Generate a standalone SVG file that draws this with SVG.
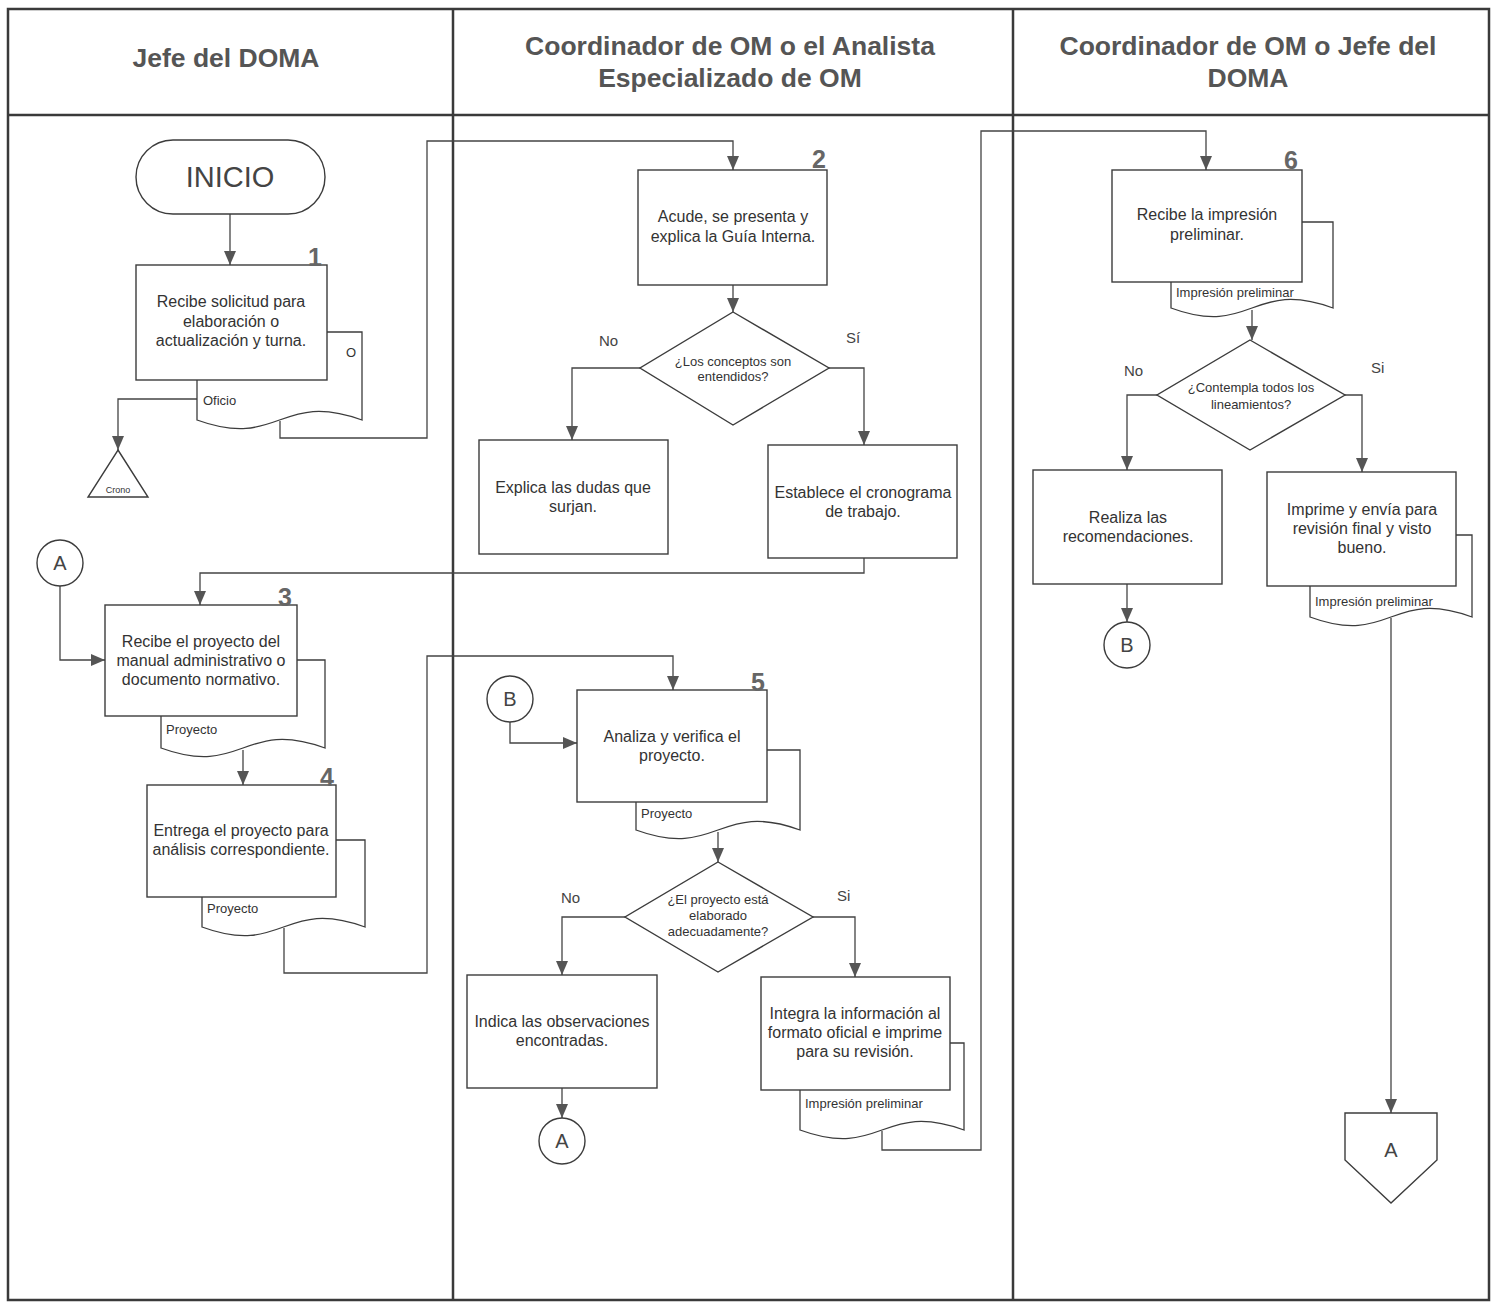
<svg xmlns="http://www.w3.org/2000/svg" width="1495" height="1303" viewBox="0 0 1495 1303">
<style>
.frame{fill:none;stroke:#3a3a3a;stroke-width:2.5}
.box{fill:#fff;stroke:#3c3c3c;stroke-width:1.4}
.doc{fill:#fff;stroke:#3c3c3c;stroke-width:1.3}
.con{fill:none;stroke:#444;stroke-width:1.3;marker-end:url(#arr)}
.hdr{font-family:"Liberation Sans",Arial,sans-serif;font-weight:bold;font-size:26.5px;fill:#555;text-anchor:middle}
.t{font-family:"Liberation Sans",Arial,sans-serif;font-size:16px;fill:#333;text-anchor:middle}
.q{font-family:"Liberation Sans",Arial,sans-serif;font-size:13px;fill:#333;text-anchor:middle}
.lbl{font-family:"Liberation Sans",Arial,sans-serif;font-size:13px;fill:#333}
.yn{font-family:"Liberation Sans",Arial,sans-serif;font-size:15px;fill:#444}
.num{font-family:"Liberation Sans",Arial,sans-serif;font-weight:bold;font-size:25px;fill:#666;text-anchor:end}
.big{font-family:"Liberation Sans",Arial,sans-serif;font-size:20px;fill:#444;text-anchor:middle}
</style>
<defs>
<marker id="arr" viewBox="0 0 14 12" refX="14" refY="6" markerWidth="14" markerHeight="12" markerUnits="userSpaceOnUse" orient="auto">
<path d="M0,0 L14,6 L0,12 z" fill="#555"/>
</marker>
</defs>
<rect x="0" y="0" width="1495" height="1303" fill="#fff"/>
<g id="frame">
<rect class="frame" x="8" y="9" width="1481" height="1291"/>
<line class="frame" x1="8" y1="115" x2="1489" y2="115" stroke-width="3.5"/>
<line class="frame" x1="453" y1="9" x2="453" y2="1300"/>
<line class="frame" x1="1013" y1="9" x2="1013" y2="1300"/>
<text class="hdr" x="226" y="67">Jefe del DOMA</text>
<text class="hdr" x="730" y="55">Coordinador de OM o el Analista</text>
<text class="hdr" x="730" y="87">Especializado de OM</text>
<text class="hdr" x="1248" y="55">Coordinador de OM o Jefe del</text>
<text class="hdr" x="1248" y="87">DOMA</text>
</g>
<g id="connectors">
<path class="con" d="M230,214 V265"/>
<path class="con" d="M197,399 H118 V450"/>
<path class="con" d="M280,421 V438 H427 V141 H733 V170"/>
<path class="con" d="M733,285 V312"/>
<path class="con" d="M640,368 H572 V440"/>
<path class="con" d="M829,368 H864 V445"/>
<path class="con" d="M864,558 V573 H200 V605"/>
<path class="con" d="M60,586 V660 H105"/>
<path class="con" d="M243,750 V785"/>
<path class="con" d="M284,928 V973 H427 V656 H673 V690"/>
<path class="con" d="M510,722 V743 H577"/>
<path class="con" d="M718,832 V862"/>
<path class="con" d="M625,917 H562 V975"/>
<path class="con" d="M562,1088 V1118"/>
<path class="con" d="M813,917 H855 V977"/>
<path class="con" d="M882,1131 V1150 H981 V131 H1206 V170"/>
<path class="con" d="M1252,310 V340"/>
<path class="con" d="M1157,395 H1127 V470"/>
<path class="con" d="M1127,584 V622"/>
<path class="con" d="M1345,395 H1362 V472"/>
<path class="con" d="M1391,618 V1113"/>
</g>
<g id="inicio">
<rect class="box" x="136" y="140" width="189" height="74" rx="37" ry="37"/>
<text class="big" x="230" y="187" style="font-size:29px">INICIO</text>
</g>
<g id="step1">
<path class="doc" d="M197,332 H362 V420 C279.5,390 279.5,450 197,420 Z"/>
<text class="lbl" x="346" y="357">O</text>
<text class="lbl" x="203" y="405">Oficio</text>
<rect class="box" x="136" y="265" width="191" height="115"/>
<text class="num" x="322" y="266">1</text>
<text class="t" x="231" y="307">Recibe solicitud para</text>
<text class="t" x="231" y="327">elaboración o</text>
<text class="t" x="231" y="346">actualización y turna.</text>
</g>
<g id="crono">
<path class="box" d="M118,450 L148,497 L88,497 Z"/>
<text class="q" x="118" y="493" style="font-size:9px">Crono</text>
</g>
<g id="step2">
<rect class="box" x="638" y="170" width="189" height="115"/>
<text class="num" x="826" y="168">2</text>
<text class="t" x="733" y="222">Acude, se presenta y</text>
<text class="t" x="733" y="242">explica la Guía Interna.</text>
</g>
<g id="decision1">
<path class="box" d="M733,312 L829,368 L733,425 L640,368 Z"/>
<text class="q" x="733" y="366">¿Los conceptos son</text>
<text class="q" x="733" y="381">entendidos?</text>
<text class="yn" x="599" y="346">No</text>
<text class="yn" x="846" y="343">Sí</text>
</g>
<g id="explica">
<rect class="box" x="479" y="440" width="189" height="114"/>
<text class="t" x="573" y="493">Explica las dudas que</text>
<text class="t" x="573" y="512">surjan.</text>
</g>
<g id="establece">
<rect class="box" x="768" y="445" width="189" height="113"/>
<text class="t" x="863" y="498">Establece el cronograma</text>
<text class="t" x="863" y="517">de trabajo.</text>
</g>
<g id="connA1">
<circle class="box" cx="60" cy="563" r="23"/>
<text class="big" x="60" y="570">A</text>
</g>
<g id="step3">
<path class="doc" d="M161,660 H325 V748 C243,718 243,778 161,748 Z"/>
<text class="lbl" x="166" y="734">Proyecto</text>
<rect class="box" x="105" y="605" width="192" height="111"/>
<text class="num" x="292" y="606">3</text>
<text class="t" x="201" y="647">Recibe el proyecto del</text>
<text class="t" x="201" y="666">manual administrativo o</text>
<text class="t" x="201" y="685">documento normativo.</text>
</g>
<g id="step4">
<path class="doc" d="M202,840 H365 V927 C283.5,897 283.5,957 202,927 Z"/>
<text class="lbl" x="207" y="913">Proyecto</text>
<rect class="box" x="147" y="785" width="189" height="112"/>
<text class="num" x="334" y="786">4</text>
<text class="t" x="241" y="836">Entrega el proyecto para</text>
<text class="t" x="241" y="855">análisis correspondiente.</text>
</g>
<g id="connB1">
<circle class="box" cx="510" cy="699" r="23"/>
<text class="big" x="510" y="706">B</text>
</g>
<g id="step5">
<path class="doc" d="M636,750 H800 V830 C718,800 718,860 636,830 Z"/>
<text class="lbl" x="641" y="818">Proyecto</text>
<rect class="box" x="577" y="690" width="190" height="112"/>
<text class="num" x="765" y="691">5</text>
<text class="t" x="672" y="742">Analiza y verifica el</text>
<text class="t" x="672" y="761">proyecto.</text>
</g>
<g id="decision2">
<path class="box" d="M718,862 L813,917 L718,972 L625,917 Z"/>
<text class="q" x="718" y="904">¿El proyecto está</text>
<text class="q" x="718" y="920">elaborado</text>
<text class="q" x="718" y="936">adecuadamente?</text>
<text class="yn" x="561" y="903">No</text>
<text class="yn" x="837" y="901">Si</text>
</g>
<g id="indica">
<rect class="box" x="467" y="975" width="190" height="113"/>
<text class="t" x="562" y="1027">Indica las observaciones</text>
<text class="t" x="562" y="1046">encontradas.</text>
</g>
<g id="connA2">
<circle class="box" cx="562" cy="1141" r="23"/>
<text class="big" x="562" y="1148">A</text>
</g>
<g id="integra">
<path class="doc" d="M800,1043 H964 V1130 C882,1100 882,1160 800,1130 Z"/>
<text class="lbl" x="805" y="1108">Impresión preliminar</text>
<rect class="box" x="761" y="977" width="189" height="113"/>
<text class="t" x="855" y="1019">Integra la información al</text>
<text class="t" x="855" y="1038">formato oficial e imprime</text>
<text class="t" x="855" y="1057">para su revisión.</text>
</g>
<g id="step6">
<path class="doc" d="M1171,222 H1333 V308 C1252,278 1252,338 1171,308 Z"/>
<text class="lbl" x="1176" y="297">Impresión preliminar</text>
<rect class="box" x="1112" y="170" width="190" height="112"/>
<text class="num" x="1298" y="169">6</text>
<text class="t" x="1207" y="220">Recibe la impresión</text>
<text class="t" x="1207" y="240">preliminar.</text>
</g>
<g id="decision3">
<path class="box" d="M1250,340 L1345,395 L1250,450 L1157,395 Z"/>
<text class="q" x="1251" y="392">¿Contempla todos los</text>
<text class="q" x="1251" y="409">lineamientos?</text>
<text class="yn" x="1124" y="376">No</text>
<text class="yn" x="1371" y="373">Si</text>
</g>
<g id="realiza">
<rect class="box" x="1033" y="470" width="189" height="114"/>
<text class="t" x="1128" y="523">Realiza las</text>
<text class="t" x="1128" y="542">recomendaciones.</text>
</g>
<g id="connB2">
<circle class="box" cx="1127" cy="645" r="23"/>
<text class="big" x="1127" y="652">B</text>
</g>
<g id="imprime">
<path class="doc" d="M1310,535 H1472 V617 C1391,587 1391,647 1310,617 Z"/>
<text class="lbl" x="1315" y="606">Impresión preliminar</text>
<rect class="box" x="1267" y="472" width="189" height="114"/>
<text class="t" x="1362" y="515">Imprime y envía para</text>
<text class="t" x="1362" y="534">revisión final y visto</text>
<text class="t" x="1362" y="553">bueno.</text>
</g>
<g id="offpageA">
<path class="box" d="M1345,1113 H1437 V1160 L1391,1203 L1345,1160 Z"/>
<text class="big" x="1391" y="1157">A</text>
</g>
</svg>
